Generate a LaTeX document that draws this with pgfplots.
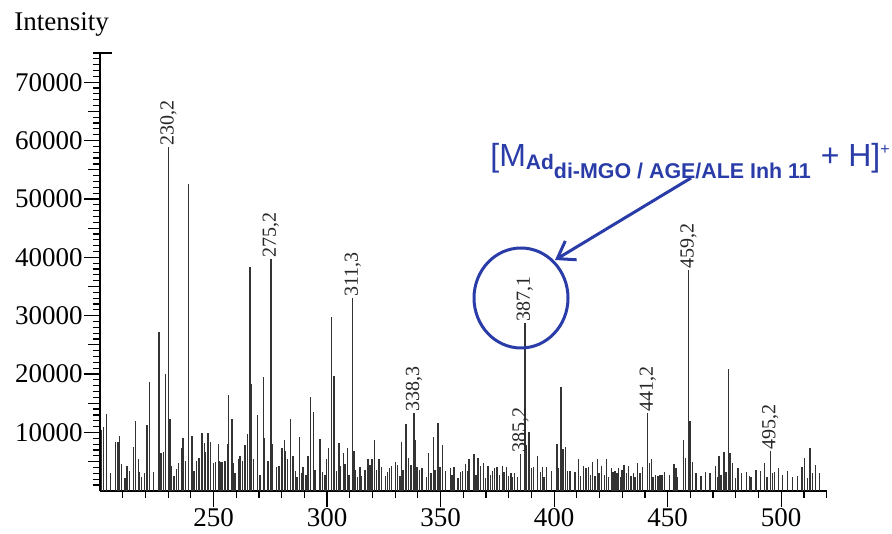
\documentclass[border=0pt]{standalone}
\usepackage{fontspec}
\setmainfont{Liberation Serif}
\newfontfamily\annfont{Liberation Sans}
\usepackage{pgfplots}
\pgfplotsset{compat=1.18}
\usetikzlibrary{arrows.meta}
\definecolor{annblue}{RGB}{42,60,168}

\begin{document}
\begin{tikzpicture}[x=1pt,y=1pt]
\path[use as bounding box] (0,0) rectangle (446,267);
\begin{axis}[at={(50pt,21.6pt)}, anchor=south west,
  scale only axis, width=363.3pt, height=218.9pt,
  xmin=200, xmax=520, ymin=0, ymax=75000,
  axis x line*=bottom, axis y line*=left,
  axis line style={-, line width=0.75pt},
  tick align=outside,
  xtick={250,300,...,500}, minor xtick={210,220,...,520},
  ytick={10000,20000,...,70000}, minor ytick={1000,2000,...,74000},
  extra y ticks={5000,15000,...,65000}, extra y tick labels={},
  extra y tick style={major tick length=6pt},
  major tick length=8pt, minor tick length=3.5pt,
  tick style={black, line width=0.6pt},
  scaled y ticks=false,
  tick label style={font=\fontsize{13.5}{13.5}\selectfont},
  yticklabel style={inner xsep=0.5pt, /pgf/number format/.cd, fixed, set thousands separator={}, assume math mode=true},
  xticklabel style={inner ysep=0.5pt, /pgf/number format/assume math mode=true},
  clip=false]
\addplot[ycomb, black!80, line width=0.75pt] coordinates {
(200.6,10400)(201.6,10980)(202.9,13150)(204.7,3000)(206.9,8410)(207.9,8400)
(208.6,9440)(209.5,4540)(210.9,2140)(211.9,4250)(213.0,3390)(214.7,7560)
(215.7,11900)(216.9,5390)(217.4,3160)(218.3,2420)(219.7,3000)(220.8,11220)
(221.8,18640)(223.6,3160)(226.0,27150)(226.9,6420)(228.0,6650)(228.9,19950)
(230.2,58900)(230.8,12300)(231.4,4250)(232.6,2540)(233.8,3680)(234.6,4710)
(236.0,7280)(236.6,9040)(237.6,5160)(239.0,52550)(240.5,9440)(241.5,3390)
(242.6,5160)(243.6,5620)(244.9,9900)(246.1,8130)(246.5,6650)(247.6,9900)
(248.7,8360)(249.9,4710)(250.9,4880)(252.1,7960)(252.5,5160)(253.2,4880)
(254.0,4930)(255.0,5160)(256.1,7960)(256.7,16460)(258.1,12300)(258.7,4710)
(259.5,3000)(261.1,5500)(261.7,6010)(262.7,5160)(263.9,7790)(264.9,9680)
(266.1,38400)(266.5,18240)(267.7,5390)(269.4,12980)(270.5,2700)(271.9,19490)
(272.5,8990)(274.0,5160)(275.2,39650)(276.0,7960)(277.8,4020)(278.8,4250)
(280.2,7280)(281.2,8650)(281.8,6880)(282.6,5500)(284.0,12300)(285.0,6010)
(286.2,3390)(286.8,2310)(287.8,9270)(288.8,3000)(289.5,4020)(290.7,2700)
(291.7,6010)(292.8,16010)(294.1,13440)(294.7,3510)(296.9,8820)(297.9,3160)
(299.2,2700)(299.7,5390)(300.7,7280)(301.9,29700)(303.1,19720)(304.1,3390)
(305.3,8130)(305.7,4250)(307.2,6420)(308.0,4540)(309.1,7280)(309.7,2700)
(311.3,33000)(311.9,6880)(312.4,3510)(313.5,2310)(314.6,4020)(315.1,2540)
(316.8,3510)(318.0,5390)(319.0,4420)(319.8,5390)(320.8,8700)(321.8,3510)
(322.9,5500)(323.9,4020)(325.8,2540)(326.7,3280)(327.4,3850)(328.4,4250)
(330.1,4930)(331.1,4420)(332.1,2540)(332.8,8410)(333.4,3510)(334.8,11440)
(335.9,5620)(337.0,4350)(338.3,13270)(338.7,8700)(339.7,4020)(340.8,3510)
(341.8,3850)(343.7,2310)(344.7,6420)(345.8,3000)(346.9,9270)(347.5,3510)
(348.8,11670)(349.7,4020)(350.9,7790)(352.1,3390)(354.3,3850)(355.0,2700)
(355.9,4020)(357.7,2140)(358.7,3160)(359.7,3390)(360.9,4540)(362.1,3390)
(362.6,5390)(364.7,6250)(365.7,2700)(366.5,5620)(367.6,4250)(368.8,4710)
(369.8,2140)(370.9,4250)(372.0,2700)(372.9,3390)(373.8,3850)(374.8,4020)
(375.9,2700)(377.3,4250)(377.9,3160)(379.1,4020)(380.0,2540)(381.0,3000)
(381.6,2310)(382.6,3000)(383.8,2310)(385.2,6250)(387.1,28750)(387.8,7790)
(388.9,10120)(390.1,3850)(391.0,4110)(392.7,6010)(393.9,3160)(394.9,4020)
(395.5,2310)(396.7,4020)(398.9,3390)(401.3,7960)(401.8,3850)(403.0,17730)
(404.0,7110)(405.1,7560)(405.8,3390)(407.0,3390)(409.2,3160)(410.8,5390)
(411.7,2540)(412.9,4250)(414.0,3850)(415.2,4020)(416.1,2700)(417.0,4930)
(418.1,2540)(419.2,5390)(419.7,3000)(420.9,4250)(422.1,2700)(423.1,5500)
(424.0,2420)(425.2,3850)(425.9,3160)(426.9,3390)(427.7,3000)(428.4,3850)
(429.3,2310)(429.9,3510)(430.8,4420)(431.8,3000)(432.7,4250)(433.8,2540)
(434.9,3000)(435.7,2310)(436.8,4710)(437.8,3000)(439.0,4020)(441.2,13270)
(441.9,4710)(442.9,5390)(443.5,2420)(444.6,2700)(445.7,2540)(446.6,2700)
(447.6,2700)(448.7,3160)(450.7,2700)(452.9,4540)(453.7,3850)(454.4,2420)
(456.9,8700)(457.8,5560)(459.2,37820)(459.8,11960)(461.0,4930)(462.5,3000)
(464.7,2540)(466.6,3160)(468.6,3000)(471.0,4250)(472.2,2420)(472.7,6010)
(473.6,2700)(474.8,6650)(475.8,3160)(476.9,20800)(477.4,6420)(478.5,4710)
(479.9,2140)(481.0,3850)(482.6,3000)(484.8,3160)(486.1,2540)(486.7,2420)
(488.9,3510)(490.9,3390)(492.7,4710)(493.7,2310)(495.2,6870)(496.1,3000)
(497.1,3160)(498.9,3850)(500.6,2700)(502.7,3390)(505.0,2310)(507.1,2540)
(509.1,4020)(510.3,5560)(511.5,2140)(512.7,7390)(513.8,3000)(515.0,4420)
(516.8,3000)
};
\begin{scope}[every node/.style={rotate=90, anchor=west, inner sep=0.5pt,
    text=black!85, font=\fontsize{10}{10}\selectfont}]
\node at (axis cs:230.2,58900) {230,2};
\node at (axis cs:275.2,39650) {275,2};
\node at (axis cs:311.3,33000) {311,3};
\node at (axis cs:338.3,13270) {338,3};
\node at (axis cs:385.2,6250) {385,2};
\node at (axis cs:387.1,28750) {387,1};
\node at (axis cs:441.2,13270) {441,2};
\node at (axis cs:459.2,37820) {459,2};
\node at (axis cs:495.2,6870) {495,2};
\end{scope}
\end{axis}
% top end marker of the intensity axis
\draw[line width=0.6pt] (46.5,240.5) -- (56,240.5);
\node[anchor=base west, inner sep=0pt, font=\fontsize{13.5}{13.5}\selectfont] at (7,251.5) {Intensity};
% annotation
\draw[annblue, line width=1.5pt] (260.5,118) ellipse [x radius=23.5pt, y radius=25pt];
\draw[annblue, line width=1.5pt, -{Straight Barb[length=8pt, width=11pt]}] (345.5,178) -- (277.5,137);
\node[anchor=base west, inner sep=0pt, text=annblue, font=\annfont] at (245,183.5)
  {\fontsize{16}{16}\selectfont [M\raisebox{-1.5pt}{\fontsize{10.5}{10.5}\selectfont\bfseries Ad}\raisebox{-6pt}{\fontsize{10.7}{10.7}\selectfont\bfseries di-MGO / AGE/ALE Inh 11}\hspace{5pt}+ H]\raisebox{6pt}{\fontsize{8}{8}\selectfont +}};
\end{tikzpicture}
\end{document}
